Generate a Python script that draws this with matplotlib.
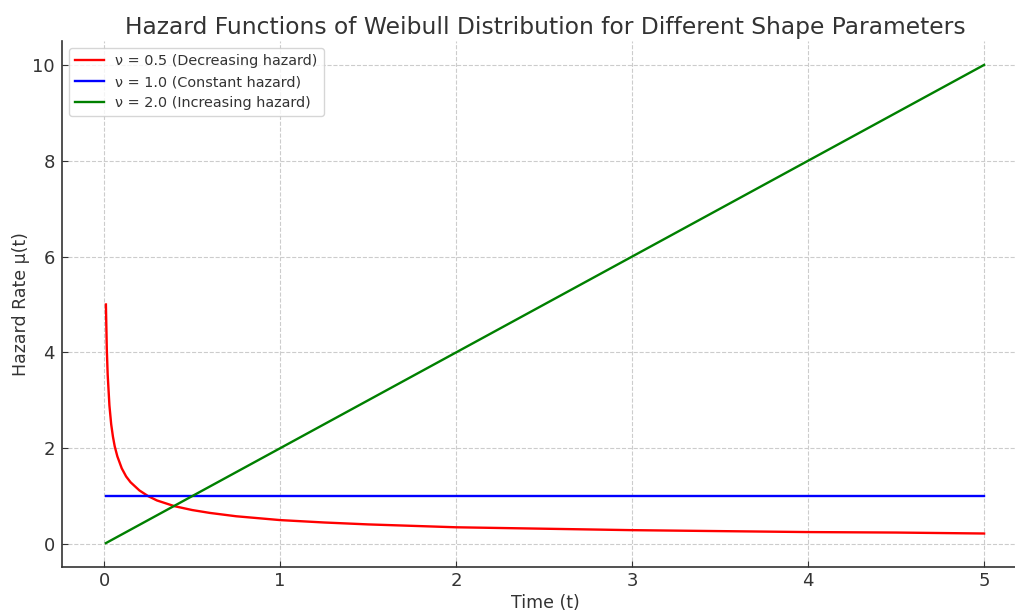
import matplotlib
matplotlib.use("Agg")
import matplotlib.pyplot as plt

# Values
t_values = [0.01, 0.015, 0.02, 0.03, 0.04, 0.05, 0.06, 0.075, 0.1, 0.125, 0.15, 0.2,
            0.25, 0.3, 0.4, 0.5, 0.6, 0.75, 1.0, 1.25, 1.5, 2.0, 2.5, 3.0, 3.5, 4.0, 4.5, 5.0]
hazard_05 = [5.0, 4.08, 3.54, 2.89, 2.5, 2.24, 2.04, 1.83, 1.58, 1.41, 1.29, 1.12,
             1.0, 0.91, 0.79, 0.71, 0.65, 0.58, 0.5, 0.45, 0.41, 0.35, 0.32, 0.29, 0.27, 0.25, 0.24, 0.22]
hazard_10 = [1.0] * len(t_values)
hazard_20 = [0.02, 0.03, 0.04, 0.06, 0.08, 0.1, 0.12, 0.15, 0.2, 0.25, 0.3, 0.4,
             0.5, 0.6, 0.8, 1.0, 1.2, 1.5, 2.0, 2.5, 3.0, 4.0, 5.0, 6.0, 7.0, 8.0, 9.0, 10.0]
labels = ["ν = 0.5 (Decreasing hazard)", "ν = 1.0 (Constant hazard)", "ν = 2.0 (Increasing hazard)"]
colors = ["red", "blue", "green"]
x_ticks = [0, 1, 2, 3, 4, 5]
y_ticks = [0, 2, 4, 6, 8, 10]

text_color = "#333333"
plt.rcParams["font.family"] = ["DejaVu Sans"]

fig = plt.figure(figsize=(10.15, 6.11), dpi=100)
ax = fig.add_axes([62 / 1015, (611 - 567) / 611, (1028 - 62) / 1015, 526 / 611])

for y, lab, c in zip([hazard_05, hazard_10, hazard_20], labels, colors):
    ax.plot(t_values, y, color=c, linewidth=1.7, label=lab)

ax.set_title("Hazard Functions of Weibull Distribution for Different Shape Parameters",
             fontsize=16.8, color=text_color, pad=5)
ax.set_xlabel("Time (t)", fontsize=12.5, color=text_color, labelpad=3)
ax.set_ylabel("Hazard Rate μ(t)", fontsize=12.5, color=text_color, labelpad=1.5)
ax.grid(True, linestyle="--", color="#cccccc", linewidth=0.8)
ax.set_axisbelow(True)
for s in ["top", "right"]:
    ax.spines[s].set_visible(False)
for s in ["left", "bottom"]:
    ax.spines[s].set_color(text_color)
    ax.spines[s].set_linewidth(1.2)
ax.tick_params(colors=text_color, labelsize=13, length=4, direction="in")
ax.tick_params(axis="y", pad=5)
ax.set_yticks(y_ticks)
ax.set_xticks(x_ticks)
leg = ax.legend(loc="upper left", fontsize=10.4, framealpha=0.8)
for txt in leg.get_texts():
    txt.set_color(text_color)

fig.savefig("out.png", dpi=100)
